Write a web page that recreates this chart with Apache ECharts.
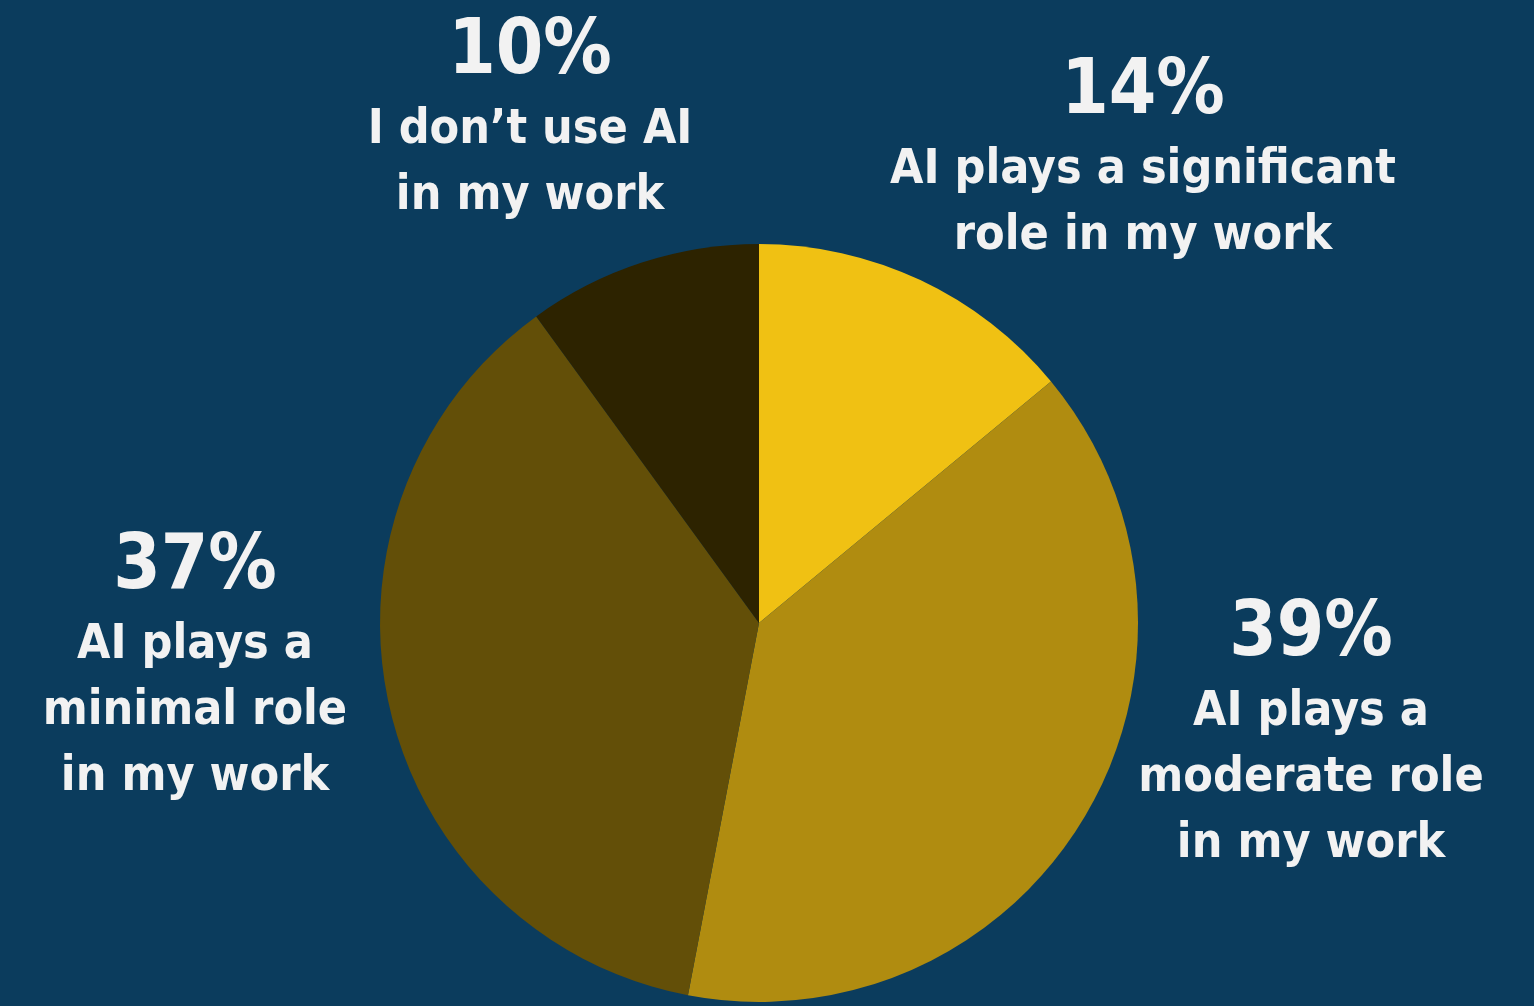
<!DOCTYPE html>
<html>
<head>
<meta charset="utf-8">
<script src="https://cdn.jsdelivr.net/npm/echarts@6/dist/echarts.min.js"></script>
<style>
  html, body { margin: 0; padding: 0; background: #0B3C5D; }
  #chart { width: 1534px; height: 1006px; }
</style>
</head>
<body>
<div id="chart"></div>
<script>
// Survey answers, clockwise from 12 o'clock
const categories = [
  'AI plays a significant\nrole in my work',
  'AI plays a\nmoderate role\nin my work',
  'AI plays a\nminimal role\nin my work',
  'I don\u2019t use AI\nin my work'
];
const shares = [14, 39, 37, 10];
const sliceColors = ['#F0C113', '#B08C10', '#634F08', '#2D2300'];

// Anchor (top-centre) of each label block
const labelAnchors = [
  [1143, 48],
  [1311, 590],
  [195, 523],
  [530, 8]
];

const chart = echarts.init(document.getElementById('chart'));
const fontFamily = '"DejaVu Sans Condensed", "DejaVu Sans", sans-serif';

chart.setOption({
  backgroundColor: '#0B3C5D',
  animation: false,
  series: [{
    type: 'pie',
    center: [759, 623],
    radius: [0, 379],
    startAngle: 90,
    clockwise: true,
    silent: true,
    data: categories.map((name, i) => ({
      name: name,
      value: shares[i],
      itemStyle: { color: sliceColors[i] }
    })),
    label: {
      show: true,
      position: 'outside',
      color: '#F2F2F2',
      fontFamily: fontFamily,
      align: 'center',
      formatter: function (p) {
        const lines = p.name.split('\n').map(l => '{txt|' + l + '}');
        return '{pct|' + p.value + '%}\n' + lines.join('\n');
      },
      rich: {
        pct: {
          fontSize: 76,
          fontWeight: 'bold',
          fontFamily: fontFamily,
          color: '#F2F2F2',
          lineHeight: 90,
          align: 'center'
        },
        txt: {
          fontSize: 48,
          fontWeight: 'bold',
          fontFamily: fontFamily,
          color: '#F2F2F2',
          lineHeight: 66,
          align: 'center'
        }
      }
    },
    labelLine: { show: false },
    labelLayout: function (params) {
      const a = labelAnchors[params.dataIndex];
      return { x: a[0], y: a[1], align: 'center', verticalAlign: 'top' };
    }
  }]
});
</script>
</body>
</html>
